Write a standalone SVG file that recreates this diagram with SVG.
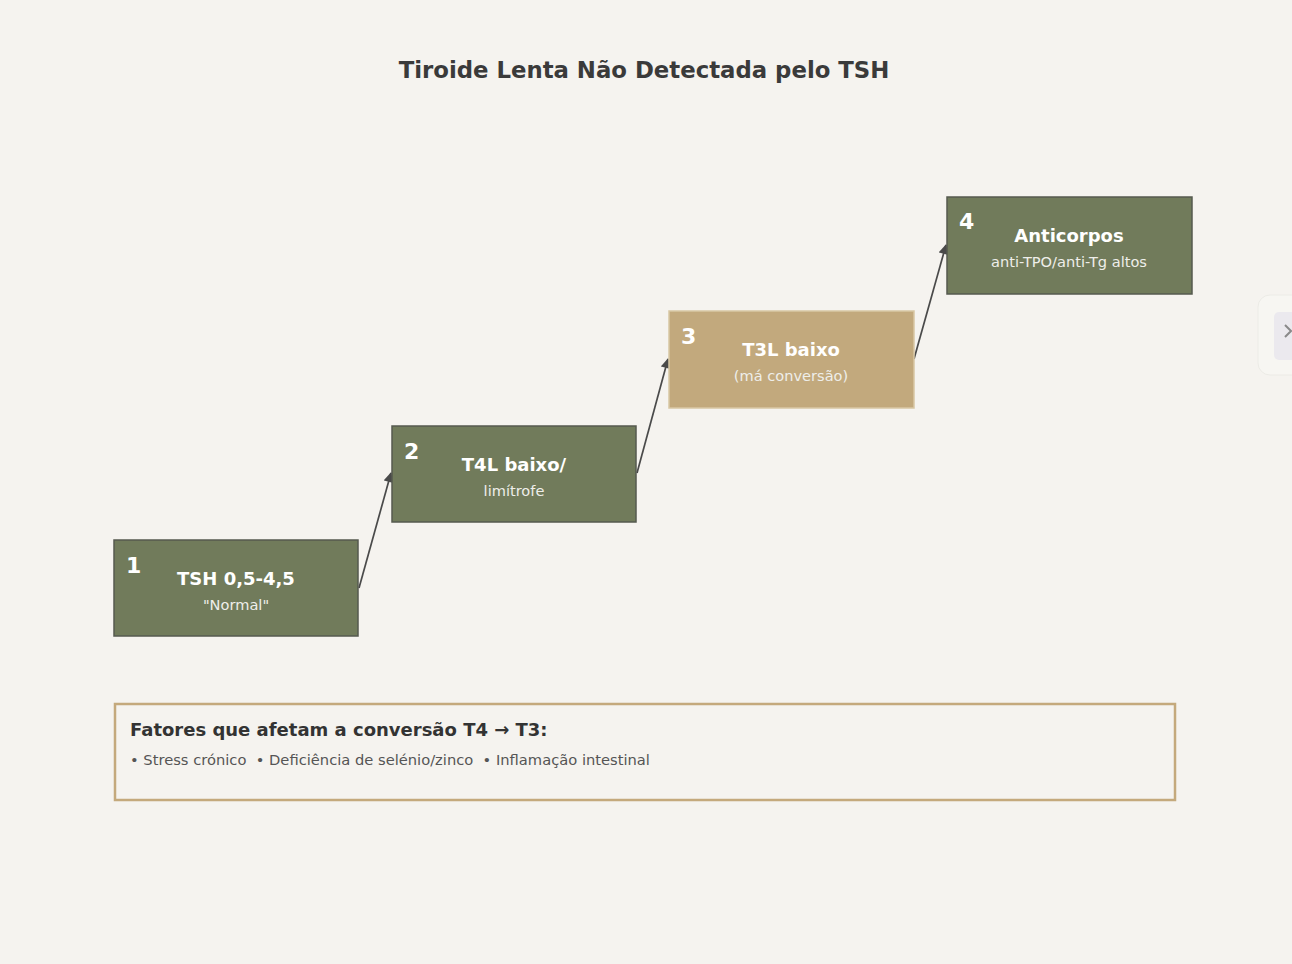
<svg xmlns="http://www.w3.org/2000/svg" width="1292" height="964" viewBox="0 0 1292 964">
<defs>
<style>
text{font-family:"DejaVu Sans","Verdana",sans-serif}
.node{fill:#717b5b;stroke:#555a4f;stroke-width:1.5}
.node.gold{fill:#c2a97d;stroke:#d8c7a4}
.num{font-size:22px;font-weight:bold;fill:#ffffff}
.ttl{font-size:18px;font-weight:bold;fill:#ffffff;text-anchor:middle}
.sub{font-size:14.6px;fill:#eeeeea;text-anchor:middle}
.conn{stroke:#4a4a4a;stroke-width:1.7;fill:none}
</style>
<marker id="arr" viewBox="0 0 10 10" refX="9" refY="5" markerWidth="12" markerHeight="10" markerUnits="userSpaceOnUse" orient="auto">
<path d="M0,0 L10,5 L0,10 z" fill="#4a4a4a"/>
</marker>
</defs>
<rect width="1292" height="964" fill="#f5f3ef"/>
<text x="644" y="78" font-size="22.8" font-weight="bold" fill="#3a3a3a" text-anchor="middle">Tiroide Lenta Não Detectada pelo TSH</text>

<g id="connectors">
<line class="conn" x1="359" y1="588" x2="391" y2="473" marker-end="url(#arr)"/>
<line class="conn" x1="637" y1="473" x2="668" y2="359" marker-end="url(#arr)"/>
<line class="conn" x1="914" y1="359" x2="946" y2="245" marker-end="url(#arr)"/>
</g>

<g id="node1">
<rect class="node" x="114" y="540" width="244" height="96"/>
<text class="num" x="126" y="573">1</text>
<text class="ttl" x="236" y="585">TSH 0,5-4,5</text>
<text class="sub" x="236" y="610">"Normal"</text>
</g>
<g id="node2">
<rect class="node" x="392" y="426" width="244" height="96"/>
<text class="num" x="404" y="459">2</text>
<text class="ttl" x="514" y="471">T4L baixo/</text>
<text class="sub" x="514" y="496">limítrofe</text>
</g>
<g id="node3">
<rect class="node gold" x="669" y="311" width="245" height="97"/>
<text class="num" x="681" y="344">3</text>
<text class="ttl" x="791" y="356">T3L baixo</text>
<text class="sub" x="791" y="381">(má conversão)</text>
</g>
<g id="node4">
<rect class="node" x="947" y="197" width="245" height="97"/>
<text class="num" x="959" y="229">4</text>
<text class="ttl" x="1069" y="242">Anticorpos</text>
<text class="sub" x="1069" y="267">anti-TPO/anti-Tg altos</text>
</g>

<g id="factors">
<rect x="115" y="704" width="1060" height="96" fill="#f5f3ef" stroke="#c4a97c" stroke-width="2.5"/>
<text x="130" y="736" font-size="18" font-weight="bold" fill="#333333">Fatores que afetam a conversão T4 → T3:</text>
<text x="130" y="765" font-size="14.7" fill="#555555" xml:space="preserve">• Stress crónico  • Deficiência de selénio/zinco  • Inflamação intestinal</text>
</g>

<g id="side-handle">
<rect x="1258" y="295" width="60" height="80" rx="12" fill="#f7f6f2" stroke="#ecebe6" stroke-width="1"/>
<rect x="1274" y="312" width="40" height="48" rx="5" fill="#ebe9ee"/>
<path d="M1285,325 L1291,331 L1285,337" fill="none" stroke="#8a8a8a" stroke-width="2"/>
</g>
</svg>
